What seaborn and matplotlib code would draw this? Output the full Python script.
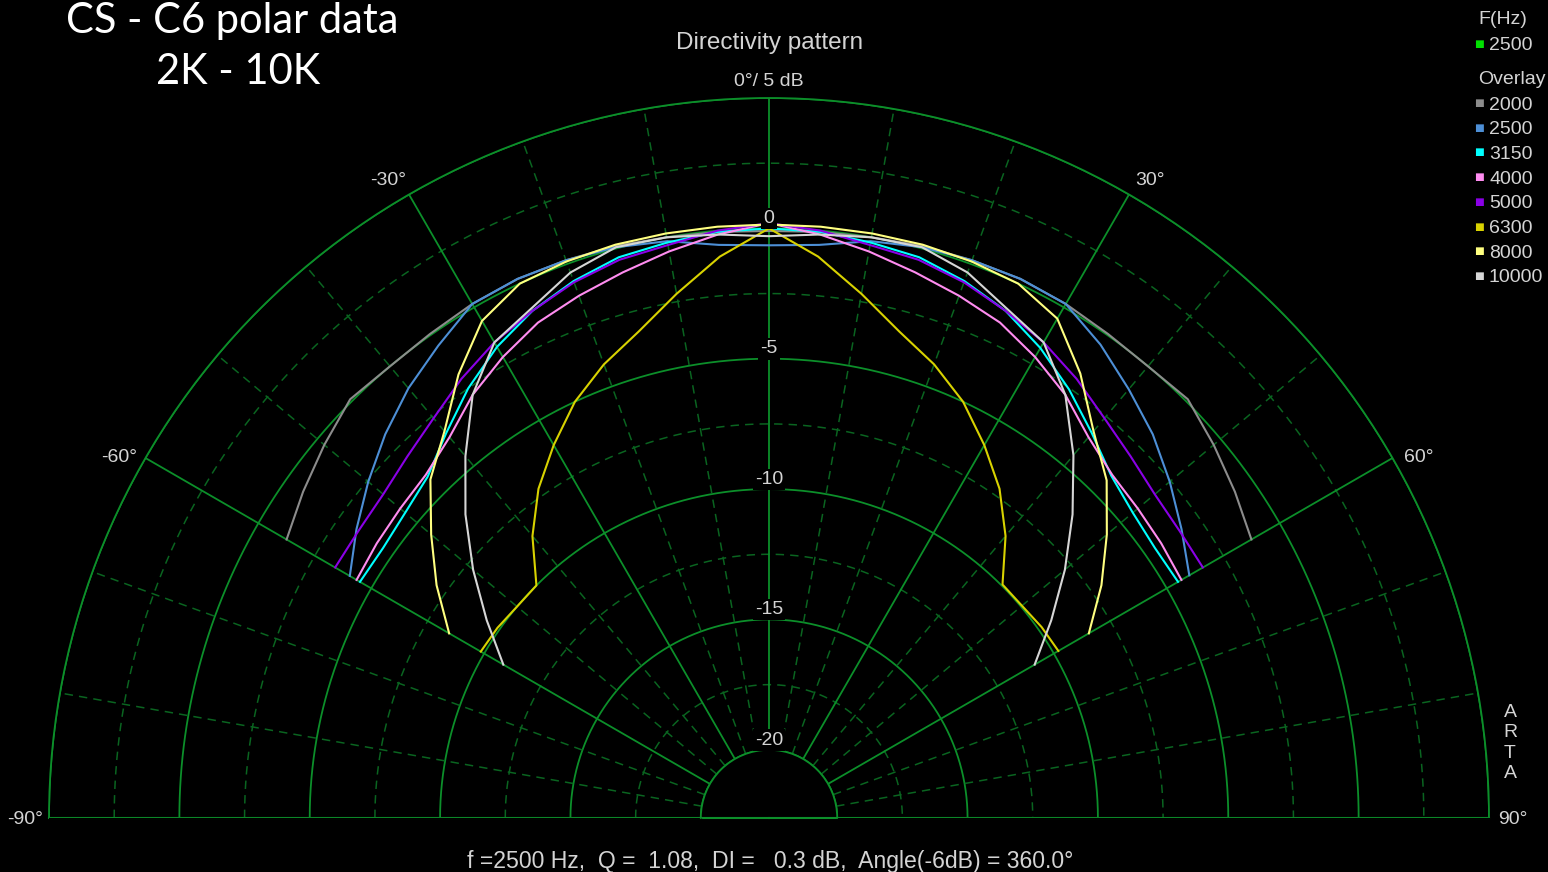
import numpy as np
import pandas as pd
import matplotlib
matplotlib.use('Agg')
import matplotlib.pyplot as plt
import seaborn as sns

# ---------------- data (dB vs angle) ----------------
angles = [-60, -55, -50, -45, -40, -35, -30, -25, -20, -15, -10, -5, 0,
          5, 10, 15, 20, 25, 30, 35, 40, 45, 50, 55, 60]

overlay_freqs = ['2000', '2500', '3150', '4000', '5000', '6300', '8000', '10000']
overlay_colors = ['#8c8c8c', '#4d8fd6', '#00ffff', '#ff8cf0', '#8a00e6',
                  '#d8d200', '#ffff80', '#d6d6d6']

db_2000 = [-1.25, -0.8, -0.35, 0.1, 0.0, 0.05, 0.15, 0.2, 0.15, 0.1, 0.0, -0.05, -0.1,
           -0.05, 0.0, 0.1, 0.15, 0.2, 0.15, 0.05, 0.0, 0.1, -0.35, -0.8, -1.25]
db_2500 = [-4.05, -3.3, -2.55, -1.8, -1.1, -0.5, 0.15, 0.2, 0.15, 0.05, -0.15, -0.55, -0.65,
           -0.55, -0.15, 0.05, 0.15, 0.2, 0.15, -0.45, -1.15, -1.8, -2.55, -3.3, -4.0]
db_3150 = [-4.5, -4.55, -4.4, -4.1, -3.35, -2.5, -1.75, -1.15, -0.7, -0.35, -0.2, -0.05, 0.0,
           -0.05, -0.2, -0.35, -0.7, -1.15, -1.8, -2.55, -3.35, -4.05, -4.4, -4.55, -4.5]
db_4000 = [-4.35, -4.25, -4.15, -4.0, -3.55, -2.8, -2.2, -1.65, -1.3, -0.95, -0.55, -0.15, 0.2,
           -0.15, -0.55, -0.95, -1.3, -1.65, -2.2, -2.8, -3.55, -4.0, -4.15, -4.25, -4.35]
db_5000 = [-3.4, -3.4, -3.3, -3.0, -2.6, -2.05, -1.55, -1.15, -0.75, -0.45, -0.3, 0.0, 0.2,
           0.0, -0.3, -0.45, -0.75, -1.15, -1.55, -2.05, -2.6, -3.0, -3.3, -3.4, -3.4]
db_6300 = [-9.85, -9.9, -10.0, -10.0, -8.5, -7.2, -6.1, -5.0, -4.1, -3.3, -2.2, -1.0, 0.0,
           -1.0, -2.2, -3.3, -4.1, -5.0, -6.1, -7.2, -8.5, -9.95, -9.95, -9.85, -9.8]
db_8000 = [-8.45, -7.05, -5.7, -4.25, -3.25, -1.85, -0.6, 0.0, 0.1, 0.15, 0.15, 0.15, 0.15,
           0.15, 0.15, 0.15, 0.1, 0.0, -0.5, -1.8, -3.25, -4.3, -5.7, -7.05, -8.45]
db_10000 = [-10.85, -9.4, -7.8, -6.15, -4.5, -2.8, -1.55, -1.05, -0.35, 0.05, 0.0, -0.15, -0.3,
            -0.15, 0.0, 0.05, -0.35, -1.05, -1.55, -2.8, -4.45, -6.15, -7.8, -9.4, -10.85]
overlay_db = [db_2000, db_2500, db_3150, db_4000, db_5000, db_6300, db_8000, db_10000]

main_freq = '2500'
r_ticks = [0, -5, -10, -15, -20]
angle_labels = {-90: '-90°', -60: '-60°', -30: '-30°', 30: '30°', 60: '60°', 90: '90°'}
info_text = 'f =2500 Hz,  Q =  1.08,  DI =   0.3 dB,  Angle(-6dB) = 360.0°'

rows = []
for f, vals in zip(overlay_freqs, overlay_db):
    for a, v in zip(angles, vals):
        rows.append({'theta': np.deg2rad(a), 'dB': v, 'freq': f})
df = pd.DataFrame(rows)

# ---------------- figure ----------------
plt.rcParams['font.family'] = ['Liberation Sans', 'DejaVu Sans']
W, H = 1548, 872
fig = plt.figure(figsize=(W / 100, H / 100), dpi=100, facecolor='black')
# square box (polar keeps equal aspect); the half disc sits in its middle
ax = fig.add_axes([49 / W, (H - 1178) / H, 1440 / W, 1440 / H], projection='polar',
                  facecolor='black')
ax.set_theta_zero_location('N')
ax.set_theta_direction(-1)
ax.set_thetamin(-90)
ax.set_thetamax(90)
r0 = -20 - 68 / 26
ax.set_ylim(-20, 5)
ax.set_rorigin(r0)
ax.grid(False)

green = '#0c8f2a'
dgreen = '#0a6420'
tt = np.linspace(-np.pi / 2, np.pi / 2, 721)

# circles
for r in np.arange(-20, 5.1, 2.5):
    solid = (r % 5 == 0)
    ax.plot(tt, np.full_like(tt, r), color=green if solid else dgreen,
            lw=1.3 if solid else 1.1, ls='-' if solid else (0, (5.5, 4)), zorder=1)
# radial lines
for a in range(-80, 81, 10):
    solid = (a % 30 == 0)
    ax.plot([np.deg2rad(a)] * 2, [-20, 5], color=green if solid else dgreen,
            lw=1.3 if solid else 1.1, ls='-' if solid else (0, (5.5, 4)), zorder=1)
for a in (-90, 90):
    ax.plot([np.deg2rad(a)] * 2, [r0, 5], color=green, lw=1.5, clip_on=False, zorder=1)

for name, sp in ax.spines.items():
    if name in ('start', 'end'):
        sp.set_visible(False)
    else:
        sp.set_color(green)
        sp.set_linewidth(1.3)

sns.lineplot(data=df, x='theta', y='dB', hue='freq', hue_order=overlay_freqs,
             palette=overlay_colors, ax=ax, legend=False, estimator=None,
             sort=False, lw=1.5, zorder=3)
ax.set_xticks([])
ax.set_yticks([])
ax.set_xlabel('')
ax.set_ylabel('')

lab_col = '#d4d4d4'
vc = 'center_baseline'
for r in r_ticks:
    ax.text(0, r + 0.45, str(r), color=lab_col, fontsize=14, ha='center', va=vc,
            zorder=4, bbox=dict(facecolor='black', edgecolor='none', pad=1.5))
ax.text(0, 5.7, '0°/ 5 dB', color=lab_col, fontsize=14, ha='center', va=vc)
for a, s in angle_labels.items():
    ta = a + 0.8 * np.sign(a) if abs(a) < 90 else a
    ax.text(np.deg2rad(ta), 5.92, s, color=lab_col, fontsize=14, ha='center', va=vc)

# titles and texts
fig.text(770 / W, 1 - 40 / H, 'Directivity pattern', color=lab_col, fontsize=17.5,
         ha='center', va=vc)
fig.text(770 / W, 1 - 859 / H, info_text, color=lab_col, fontsize=16.6, ha='center', va=vc)
fig.text(1510 / W, 1 - 743 / H, 'A\nR\nT\nA', color=lab_col, fontsize=14, ha='center',
         va='center', linespacing=1.28)
fig.text(232 / W, 1 - 33 / H, 'CS - C6 polar data', color='white', fontsize=30,
         ha='center', va='baseline', family='Lato')
fig.text(238 / W, 1 - 84 / H, '2K - 10K', color='white', fontsize=30,
         ha='center', va='baseline', family='Lato')

# legend
fig.text(1478 / W, 1 - 18 / H, 'F(Hz)', color=lab_col, fontsize=14, ha='left', va=vc)
fig.text(1479 / W, 1 - 44 / H, '■', color='#00e000', fontsize=7.5, ha='center', va='center',
         family='DejaVu Sans')
fig.text(1489 / W, 1 - 44 / H, main_freq, color=lab_col, fontsize=14, ha='left', va=vc)
fig.text(1478 / W, 1 - 77 / H, 'Overlay', color=lab_col, fontsize=14, ha='left', va=vc)
for i, (f, c) in enumerate(zip(overlay_freqs, overlay_colors)):
    y = 1 - (103 + i * 24.7) / H
    fig.text(1479 / W, y, '■', color=c, fontsize=7.5, ha='center', va='center', family='DejaVu Sans')
    fig.text(1489 / W, y, f, color=lab_col, fontsize=14, ha='left', va=vc)

fig.savefig('out.png', dpi=100, facecolor='black')
